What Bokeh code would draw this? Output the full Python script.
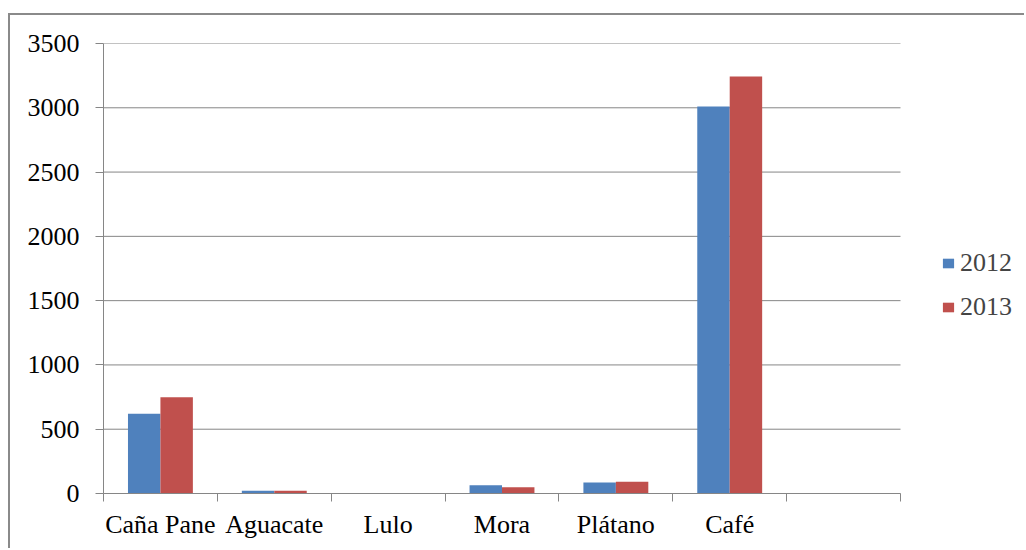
import numpy as np
from bokeh.plotting import figure
from bokeh.models import Range1d, FixedTicker, Legend, LegendItem, ColumnDataSource
from bokeh.embed import file_html
from bokeh.resources import INLINE

categories = ["Caña Pane", "Aguacate", "Lulo", "Mora", "Plátano", "Café", ""]
v2012 = [620, 22, 0, 65, 86, 3010, 0]
v2013 = [748, 21, 0, 49, 91, 3243, 0]
series = ["2012", "2013"]
y_ticks = [0, 500, 1000, 1500, 2000, 2500, 3000, 3500]

FONT = "Liberation Serif"
GRAY = "#868686"
BLUE = "#4F81BD"
RED = "#C0504D"
bar_w = 0.285

# layout (pixels)
W, H = 1016, 535
ML, MT, MB = 93, 28, 57
PLOT_W = 797            # width of the category area
FRAME_W = W - ML        # frame extends to the right edge to host the legend

n = len(categories)
xc = np.arange(n) + 0.5
src = ColumnDataSource(dict(x1=xc - bar_w / 2, x2=xc + bar_w / 2, a=v2012, b=v2013))

p = figure(width=W, height=H, output_backend="svg", toolbar_location=None,
           x_range=Range1d(0, n * FRAME_W / PLOT_W), y_range=Range1d(0, y_ticks[-1]),
           min_border_left=ML, min_border_right=0, min_border_top=MT, min_border_bottom=MB)
p.styles = {"border-left": "2px solid #8a8a8a", "border-top": "2px solid #8a8a8a",
            "margin-top": "13px", "margin-left": "8px"}
p.outline_line_color = None

# horizontal gridlines only over the category area
p.segment(x0=[0] * len(y_ticks), x1=[n] * len(y_ticks), y0=y_ticks, y1=y_ticks,
          line_color=GRAY, line_width=1)

r1 = p.vbar(x="x1", top="a", width=bar_w, source=src, fill_color=BLUE, line_color=None)
r2 = p.vbar(x="x2", top="b", width=bar_w, source=src, fill_color=RED, line_color=None)

xa = p.xaxis[0]
xa.bounds = (0, n)
xa.ticker = FixedTicker(ticks=list(xc), minor_ticks=list(range(n + 1)))
xa.major_label_overrides = {float(x): c for x, c in zip(xc, categories)}
xa.major_tick_out = 0
xa.major_tick_in = 0
xa.minor_tick_out = 8
xa.minor_tick_in = 0
xa.minor_tick_line_color = GRAY
xa.axis_line_color = GRAY
xa.major_label_text_font = FONT
xa.major_label_text_font_size = "26px"
xa.major_label_text_color = "black"
xa.major_label_standoff = 8

ya = p.yaxis[0]
ya.ticker = FixedTicker(ticks=y_ticks)
ya.major_tick_out = 8
ya.major_tick_in = 0
ya.minor_tick_out = 0
ya.minor_tick_in = 0
ya.major_tick_line_color = GRAY
ya.axis_line_color = GRAY
ya.major_label_text_font = FONT
ya.major_label_text_font_size = "26px"
ya.major_label_text_color = "black"
ya.major_label_standoff = 16

p.xgrid.grid_line_color = None
p.ygrid.grid_line_color = None

legend = Legend(items=[LegendItem(label=series[0], renderers=[r1]),
                       LegendItem(label=series[1], renderers=[r2])],
                location=(838, 171), padding=0, margin=0, spacing=14,
                glyph_width=14, glyph_height=12, label_height=26, label_standoff=5,
                label_text_font=FONT, label_text_font_size="26px",
                border_line_color=None, background_fill_alpha=0)
p.add_layout(legend)

open("out.html", "w").write(file_html(p, INLINE))
